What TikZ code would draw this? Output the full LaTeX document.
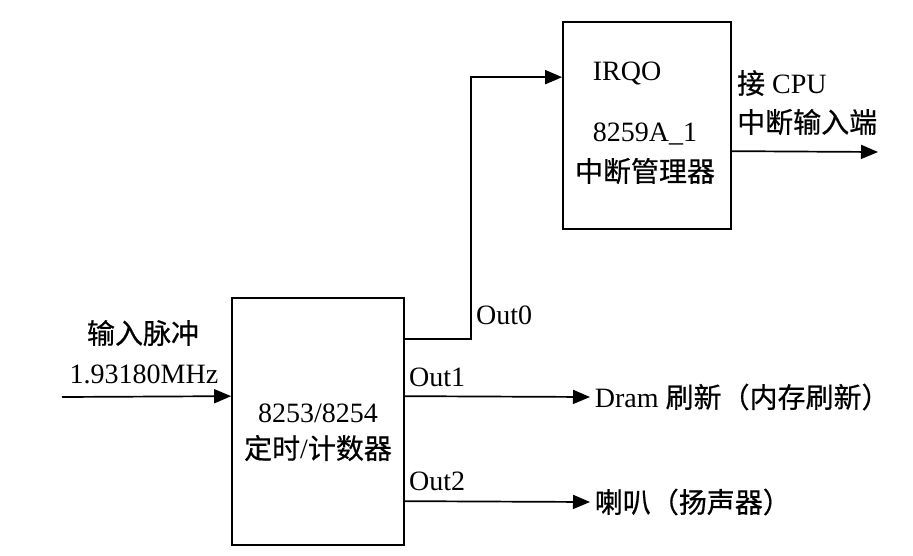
\documentclass[tikz,border=0pt]{standalone}
\usepackage{fontspec}
\setmainfont{Liberation Serif}
\newfontfamily\cjk[FakeBold=0.6]{Noto Sans CJK SC}
\usetikzlibrary{arrows.meta,positioning}

\begin{document}
\begin{tikzpicture}[x=1pt,y=-1pt,line width=1.7pt,
	every node/.style={font=\fontsize{28}{32}\selectfont},
	box/.style={draw,line width=1.7pt,inner sep=0pt},
	sig/.style={-{Triangle[length=17pt,width=14pt]}}]
	\useasboundingbox (0,0) rectangle (913,555);
	% boxes
	\node[box,minimum width=172pt,minimum height=247pt] (timer) at (318,421.5) {};
	\node[box,minimum width=168pt,minimum height=207pt] (pic) at (647,125.5) {};
	\node (timer1) at (318,413) {8253/8254};
	\node (timer2) at (318,448) {{\cjk 定时}/{\cjk 计数器}};
	\node (irq) at (627,73) {IRQO};
	\node (pic1) at (645,134) {8259A\_1};
	\node (pic2) at (645,171) {\cjk 中断管理器};
	% input
	\coordinate (in) at (62,397);
	\node (inlab1) at (143,333) {\cjk 输入脉冲};
	\node (inlab2) at (144,374) {1.93180MHz};
	\draw[sig] (in) -- ([yshift=-99pt]timer.north west);
	% outputs
	\node[anchor=west,inner sep=4pt] (dram) at (590,397) {Dram {\cjk 刷新（内存刷新）}};
	\node[anchor=west,inner sep=4pt] (spk) at (590,502) {\cjk 喇叭（扬声器）};
	\draw[sig] ([yshift=-42pt]timer.north east) -- ++(66,0) |- ([yshift=-56pt]pic.north west);
	\draw[sig] ([yshift=-99pt]timer.north east) -- (dram.west);
	\draw[sig] ([yshift=-204pt]timer.north east) -- (spk.west);
	\node[anchor=west] (out0) at (472,315) {Out0};
	\node[anchor=west] (out1) at (405,377) {Out1};
	\node[anchor=west] (out2) at (405,481) {Out2};
	% to cpu
	\coordinate (cpu) at (878,152);
	\draw[sig] ([yshift=-130pt]pic.north east) -- (cpu);
	\node[anchor=west] (cpu1) at (733,83) {{\cjk 接} CPU};
	\node[anchor=west] (cpu2) at (733,122) {\cjk 中断输入端};
\end{tikzpicture}
\end{document}
